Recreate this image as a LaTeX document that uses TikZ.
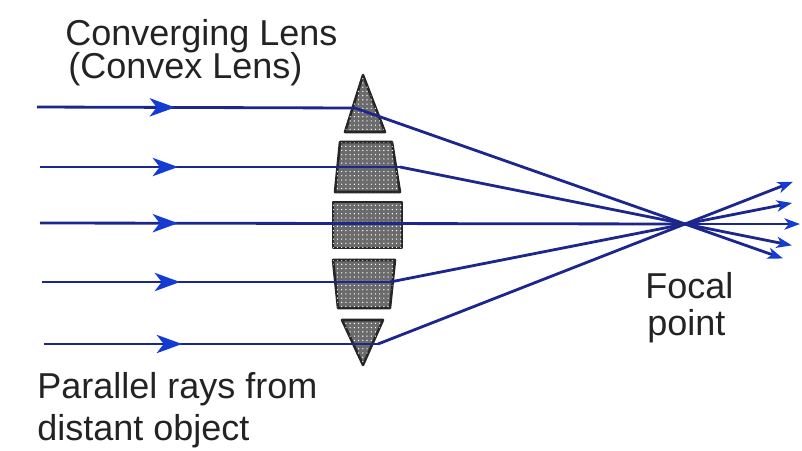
\documentclass[tikz,border=0pt]{standalone}
\usepackage{fontspec}
\setmainfont{Liberation Sans}
\usepackage{tikz}
\usetikzlibrary{arrows.meta,positioning,calc,decorations.markings,patterns}
\definecolor{raycol}{RGB}{28,38,140}
\definecolor{tipcol}{RGB}{20,60,210}
\definecolor{inkcol}{RGB}{35,35,35}

\begin{document}
\begin{tikzpicture}[x=0.025cm, y=-0.025cm]
\useasboundingbox (0,0) rectangle (802,450);
\tikzstyle{lens} = [draw=black!85, line width=1.8pt, line join=round, fill=black!58,
	postaction={pattern=dots, pattern color=white!80}]
\tikzstyle{ray} = [raycol, line width=2pt]
\tikzstyle{midarrow} = [postaction={decorate}, decoration={markings,
	mark=at position 3.45cm with {\arrow[tipcol]{Stealth[length=18pt, width=13pt, inset=5pt]}}}]
\tikzstyle{endtip} = [-{Stealth[tipcol, length=11pt, width=8pt, inset=3pt]}]
\tikzstyle{every node} = [inkcol, inner sep=0pt, anchor=base west, font=\fontsize{25.6}{28}\selectfont]
% lens pieces
\draw[lens] (363,75) -- (385,132) -- (345,132) -- cycle;
\draw[lens] (340,142) -- (392,142) -- (400,192) -- (335,192) -- cycle;
\draw[lens] (333,202) -- (402,202) -- (402,248) -- (333,248) -- cycle;
\draw[lens] (333,260) -- (395,260) -- (390,308) -- (338,308) -- cycle;
\draw[lens] (342,320) -- (383,320) -- (363,365) -- cycle;
% rays
\coordinate (f) at (685,224);
\coordinate (s1) at (37,107);
\coordinate (s2) at (40,167);
\coordinate (s3) at (40,223);
\coordinate (s4) at (42,282);
\coordinate (s5) at (44,344);
\coordinate (b1) at (355,108);
\coordinate (b2) at (400,167);
\coordinate (b4) at (390,282);
\coordinate (b5) at (378,344);
\coordinate (e1) at ($(b1)!1.297!(f)$);
\coordinate (e2) at ($(b2)!1.375!(f)$);
\coordinate (e3) at (800,224);
\coordinate (e4) at ($(b4)!1.363!(f)$);
\coordinate (e5) at ($(b5)!1.352!(f)$);
\foreach \i in {1,2,4,5} {
	\draw[ray, midarrow] (s\i) -- (b\i);
	\draw[ray, endtip] (b\i) -- (f) -- (e\i);
}
\draw[ray, midarrow] (s3) -- (f);
\draw[ray, endtip] (f) -- (e3);
% labels
\node (conv1) at (65,45) {Converging Lens};
\node (conv2) at (68,78) {(Convex Lens)};
\node (focal1) at (645,298) {Focal};
\node (focal2) at (647,335) {point};
\node (par1) at (37,398) {Parallel rays from};
\node (par2) at (37,440) {distant object};
\end{tikzpicture}
\end{document}
